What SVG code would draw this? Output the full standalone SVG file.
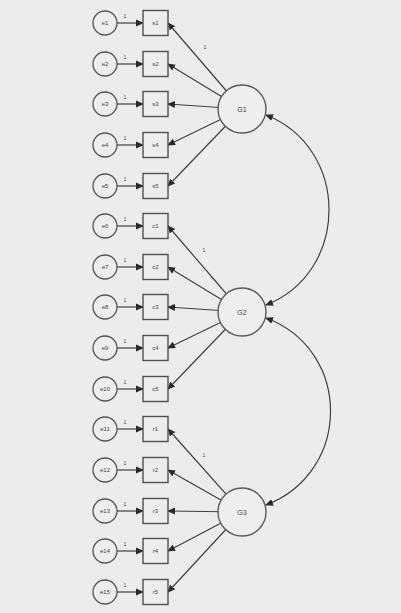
<svg xmlns="http://www.w3.org/2000/svg" width="401" height="613" viewBox="0 0 401 613">
<style>
.bg{fill:#ececec}
.e{fill:#ededed;stroke:#555;stroke-width:1.3}
.b{fill:#ededed;stroke:#505050;stroke-width:1.4}
.g{fill:#eeeeee;stroke:#5a5a5a;stroke-width:1.4}
.c{stroke:#404040;stroke-width:1.2;fill:none}
.t{font-family:"Liberation Sans",Arial,sans-serif;font-size:6px;fill:#444;text-anchor:middle}
.tg{font-family:"Liberation Sans",Arial,sans-serif;font-size:7px;fill:#444;text-anchor:middle}
.n{font-family:"Liberation Sans",Arial,sans-serif;font-size:5px;fill:#444;text-anchor:middle}
</style>
<defs>
<marker id="ah" markerUnits="userSpaceOnUse" markerWidth="8" markerHeight="8" refX="7" refY="3.5" orient="auto-start-reverse" viewBox="0 0 8 7">
<path d="M0,0 L8,3.5 L0,7 Z" fill="#2a2a2a"/>
</marker>
</defs>
<rect class="bg" x="0" y="0" width="401" height="613"/>
<g id="connectors">
<line class="c" x1="117" y1="23" x2="143" y2="23" marker-end="url(#ah)"/>
<line class="c" x1="117" y1="64" x2="143" y2="64" marker-end="url(#ah)"/>
<line class="c" x1="117" y1="104" x2="143" y2="104" marker-end="url(#ah)"/>
<line class="c" x1="117" y1="145" x2="143" y2="145" marker-end="url(#ah)"/>
<line class="c" x1="117" y1="186" x2="143" y2="186" marker-end="url(#ah)"/>
<line class="c" x1="117" y1="226" x2="143" y2="226" marker-end="url(#ah)"/>
<line class="c" x1="117" y1="267" x2="143" y2="267" marker-end="url(#ah)"/>
<line class="c" x1="117" y1="307" x2="143" y2="307" marker-end="url(#ah)"/>
<line class="c" x1="117" y1="348" x2="143" y2="348" marker-end="url(#ah)"/>
<line class="c" x1="117" y1="389" x2="143" y2="389" marker-end="url(#ah)"/>
<line class="c" x1="117" y1="429" x2="143" y2="429" marker-end="url(#ah)"/>
<line class="c" x1="117" y1="470" x2="143" y2="470" marker-end="url(#ah)"/>
<line class="c" x1="117" y1="511" x2="143" y2="511" marker-end="url(#ah)"/>
<line class="c" x1="117" y1="551" x2="143" y2="551" marker-end="url(#ah)"/>
<line class="c" x1="117" y1="592" x2="143" y2="592" marker-end="url(#ah)"/>
<line class="c" x1="242" y1="109" x2="168" y2="23" marker-end="url(#ah)"/>
<line class="c" x1="242" y1="109" x2="168" y2="64" marker-end="url(#ah)"/>
<line class="c" x1="242" y1="109" x2="168" y2="104" marker-end="url(#ah)"/>
<line class="c" x1="242" y1="109" x2="168" y2="145" marker-end="url(#ah)"/>
<line class="c" x1="242" y1="109" x2="168" y2="186" marker-end="url(#ah)"/>
<line class="c" x1="242" y1="312" x2="168" y2="226" marker-end="url(#ah)"/>
<line class="c" x1="242" y1="312" x2="168" y2="267" marker-end="url(#ah)"/>
<line class="c" x1="242" y1="312" x2="168" y2="307" marker-end="url(#ah)"/>
<line class="c" x1="242" y1="312" x2="168" y2="348" marker-end="url(#ah)"/>
<line class="c" x1="242" y1="312" x2="168" y2="389" marker-end="url(#ah)"/>
<line class="c" x1="242" y1="512" x2="168" y2="429" marker-end="url(#ah)"/>
<line class="c" x1="242" y1="512" x2="168" y2="470" marker-end="url(#ah)"/>
<line class="c" x1="242" y1="512" x2="168" y2="511" marker-end="url(#ah)"/>
<line class="c" x1="242" y1="512" x2="168" y2="551" marker-end="url(#ah)"/>
<line class="c" x1="242" y1="512" x2="168" y2="592" marker-end="url(#ah)"/>
<path class="c" d="M266,115 C350,148 350,272 266,305" marker-start="url(#ah)" marker-end="url(#ah)"/>
<path class="c" d="M266,318 C352,350 352,472 266,505" marker-start="url(#ah)" marker-end="url(#ah)"/>
<text class="n" x="125" y="18">1</text>
<text class="n" x="125" y="59">1</text>
<text class="n" x="125" y="99">1</text>
<text class="n" x="125" y="140">1</text>
<text class="n" x="125" y="181">1</text>
<text class="n" x="125" y="221">1</text>
<text class="n" x="125" y="262">1</text>
<text class="n" x="125" y="302">1</text>
<text class="n" x="125" y="343">1</text>
<text class="n" x="125" y="384">1</text>
<text class="n" x="125" y="424">1</text>
<text class="n" x="125" y="465">1</text>
<text class="n" x="125" y="506">1</text>
<text class="n" x="125" y="546">1</text>
<text class="n" x="125" y="587">1</text>
<text class="n" x="205" y="49">1</text>
<text class="n" x="204" y="252">1</text>
<text class="n" x="204" y="457">1</text>
</g>
<g id="e1"><circle class="e" cx="105" cy="23" r="12"/><text class="t" x="105" y="25">e1</text></g>
<g id="e2"><circle class="e" cx="105" cy="64" r="12"/><text class="t" x="105" y="66">e2</text></g>
<g id="e3"><circle class="e" cx="105" cy="104" r="12"/><text class="t" x="105" y="106">e3</text></g>
<g id="e4"><circle class="e" cx="105" cy="145" r="12"/><text class="t" x="105" y="147">e4</text></g>
<g id="e5"><circle class="e" cx="105" cy="186" r="12"/><text class="t" x="105" y="188">e5</text></g>
<g id="e6"><circle class="e" cx="105" cy="226" r="12"/><text class="t" x="105" y="228">e6</text></g>
<g id="e7"><circle class="e" cx="105" cy="267" r="12"/><text class="t" x="105" y="269">e7</text></g>
<g id="e8"><circle class="e" cx="105" cy="307" r="12"/><text class="t" x="105" y="309">e8</text></g>
<g id="e9"><circle class="e" cx="105" cy="348" r="12"/><text class="t" x="105" y="350">e9</text></g>
<g id="e10"><circle class="e" cx="105" cy="389" r="12"/><text class="t" x="105" y="391">e10</text></g>
<g id="e11"><circle class="e" cx="105" cy="429" r="12"/><text class="t" x="105" y="431">e11</text></g>
<g id="e12"><circle class="e" cx="105" cy="470" r="12"/><text class="t" x="105" y="472">e12</text></g>
<g id="e13"><circle class="e" cx="105" cy="511" r="12"/><text class="t" x="105" y="513">e13</text></g>
<g id="e14"><circle class="e" cx="105" cy="551" r="12"/><text class="t" x="105" y="553">e14</text></g>
<g id="e15"><circle class="e" cx="105" cy="592" r="12"/><text class="t" x="105" y="594">e15</text></g>
<g id="s1"><rect class="b" x="143" y="10.5" width="25" height="25"/><text class="t" x="155.5" y="25">s1</text></g>
<g id="s2"><rect class="b" x="143" y="51.5" width="25" height="25"/><text class="t" x="155.5" y="66">s2</text></g>
<g id="s3"><rect class="b" x="143" y="91.5" width="25" height="25"/><text class="t" x="155.5" y="106">s3</text></g>
<g id="s4"><rect class="b" x="143" y="132.5" width="25" height="25"/><text class="t" x="155.5" y="147">s4</text></g>
<g id="s5"><rect class="b" x="143" y="173.5" width="25" height="25"/><text class="t" x="155.5" y="188">s5</text></g>
<g id="c1"><rect class="b" x="143" y="213.5" width="25" height="25"/><text class="t" x="155.5" y="228">c1</text></g>
<g id="c2"><rect class="b" x="143" y="254.5" width="25" height="25"/><text class="t" x="155.5" y="269">c2</text></g>
<g id="c3"><rect class="b" x="143" y="294.5" width="25" height="25"/><text class="t" x="155.5" y="309">c3</text></g>
<g id="c4"><rect class="b" x="143" y="335.5" width="25" height="25"/><text class="t" x="155.5" y="350">c4</text></g>
<g id="c5"><rect class="b" x="143" y="376.5" width="25" height="25"/><text class="t" x="155.5" y="391">c5</text></g>
<g id="r1"><rect class="b" x="143" y="416.5" width="25" height="25"/><text class="t" x="155.5" y="431">r1</text></g>
<g id="r2"><rect class="b" x="143" y="457.5" width="25" height="25"/><text class="t" x="155.5" y="472">r2</text></g>
<g id="r3"><rect class="b" x="143" y="498.5" width="25" height="25"/><text class="t" x="155.5" y="513">r3</text></g>
<g id="r4"><rect class="b" x="143" y="538.5" width="25" height="25"/><text class="t" x="155.5" y="553">r4</text></g>
<g id="r5"><rect class="b" x="143" y="579.5" width="25" height="25"/><text class="t" x="155.5" y="594">r5</text></g>
<g id="G1"><circle class="g" cx="242" cy="109" r="24"/><text class="tg" x="242" y="111.5">G1</text></g>
<g id="G2"><circle class="g" cx="242" cy="312" r="24"/><text class="tg" x="242" y="314.5">G2</text></g>
<g id="G3"><circle class="g" cx="242" cy="512" r="24"/><text class="tg" x="242" y="514.5">G3</text></g>
</svg>
